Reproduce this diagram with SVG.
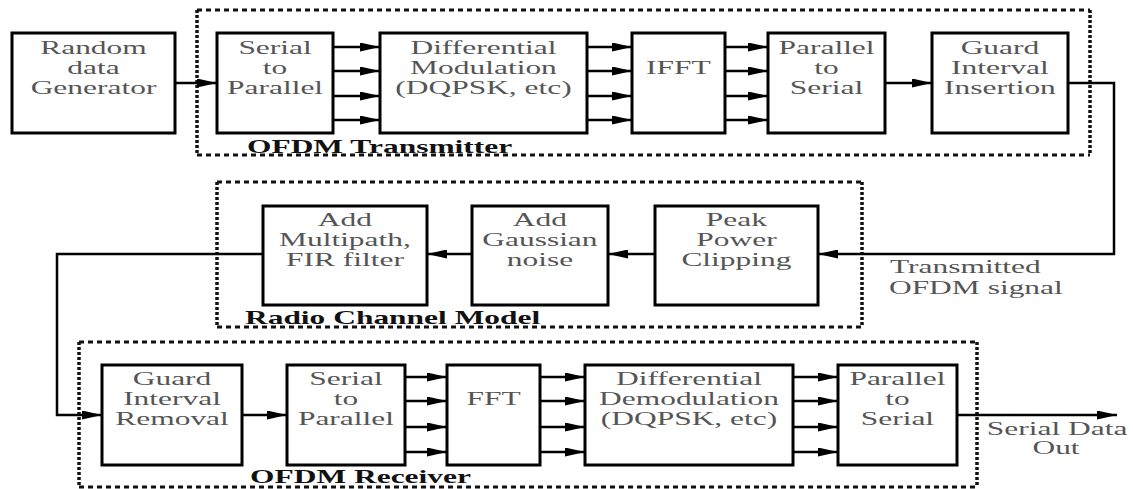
<svg xmlns="http://www.w3.org/2000/svg" width="1133" height="489" viewBox="0 0 1133 489" font-family="'Liberation Serif', 'DejaVu Serif', serif">
<style>
  .box { fill: #fff; stroke: #000; stroke-width: 3; }
  .t { font-family: 'Liberation Serif', 'DejaVu Serif', serif; font-size: 18.5px; fill: #555; text-anchor: middle; transform: scale(1.7, 1); }
  .lbl { font-family: 'Liberation Serif', 'DejaVu Serif', serif; font-size: 18.5px; font-weight: bold; fill: #111; transform: scale(1.7, 1); }
  .note { font-family: 'Liberation Serif', 'DejaVu Serif', serif; font-size: 18.5px; fill: #555; transform: scale(1.7, 1); }
  .hd { fill: none; stroke: #111; stroke-width: 3; stroke-dasharray: 5 4; }
  .vd { fill: none; stroke: #111; stroke-width: 3.5; stroke-dasharray: 3 2; }
  .ca { fill: none; stroke: #000; stroke-width: 2.5; marker-end: url(#ah); }
</style>
<defs>
  <marker id="ah" markerUnits="userSpaceOnUse" markerWidth="20" markerHeight="9" refX="20" refY="4.5" orient="auto">
    <path d="M0,0 L20,4.5 L0,9 z" fill="#000"/>
  </marker>
</defs>
<rect width="1133" height="489" fill="#fff"/>

<!-- group frames -->
<g id="frame-transmitter">
  <line class="hd" x1="197" y1="10" x2="1090" y2="10"/>
  <line class="hd" x1="197" y1="155" x2="1090" y2="155"/>
  <line class="vd" x1="197" y1="10" x2="197" y2="155"/>
  <line class="vd" x1="1090" y1="10" x2="1090" y2="155"/>
  <text class="lbl" x="145.3" y="153">OFDM Transmitter</text>
</g>
<g id="frame-channel">
  <line class="hd" x1="217" y1="182" x2="862" y2="182"/>
  <line class="hd" x1="217" y1="327" x2="862" y2="327"/>
  <line class="vd" x1="217" y1="182" x2="217" y2="327"/>
  <line class="vd" x1="862" y1="182" x2="862" y2="327"/>
  <text class="lbl" x="144.1" y="324">Radio Channel Model</text>
</g>
<g id="frame-receiver">
  <line class="hd" x1="79" y1="342" x2="977" y2="342"/>
  <line class="hd" x1="79" y1="487" x2="977" y2="487"/>
  <line class="vd" x1="79" y1="342" x2="79" y2="487"/>
  <line class="vd" x1="977" y1="342" x2="977" y2="487"/>
  <text class="lbl" x="147.1" y="483">OFDM Receiver</text>
</g>

<!-- connectors -->
<g id="connectors">
  <line class="ca" x1="175" y1="83" x2="217" y2="83"/>
  <line class="ca" x1="333" y1="47" x2="380" y2="47"/>
  <line class="ca" x1="333" y1="71" x2="380" y2="71"/>
  <line class="ca" x1="333" y1="96" x2="380" y2="96"/>
  <line class="ca" x1="333" y1="120" x2="380" y2="120"/>
  <line class="ca" x1="587" y1="47" x2="632" y2="47"/>
  <line class="ca" x1="587" y1="71" x2="632" y2="71"/>
  <line class="ca" x1="587" y1="96" x2="632" y2="96"/>
  <line class="ca" x1="587" y1="120" x2="632" y2="120"/>
  <line class="ca" x1="725" y1="47" x2="768" y2="47"/>
  <line class="ca" x1="725" y1="71" x2="768" y2="71"/>
  <line class="ca" x1="725" y1="96" x2="768" y2="96"/>
  <line class="ca" x1="725" y1="120" x2="768" y2="120"/>
  <line class="ca" x1="885" y1="83" x2="932" y2="83"/>
  <path class="ca" d="M1068,83 H1114 V254 H818"/>
  <line class="ca" x1="655" y1="254" x2="608" y2="254"/>
  <line class="ca" x1="472" y1="254" x2="427" y2="254"/>
  <path class="ca" d="M263,254 H57 V415 H102"/>
  <line class="ca" x1="242" y1="415" x2="287" y2="415"/>
  <line class="ca" x1="405" y1="377" x2="447" y2="377"/>
  <line class="ca" x1="405" y1="401" x2="447" y2="401"/>
  <line class="ca" x1="405" y1="427" x2="447" y2="427"/>
  <line class="ca" x1="405" y1="452" x2="447" y2="452"/>
  <line class="ca" x1="540" y1="377" x2="585" y2="377"/>
  <line class="ca" x1="540" y1="401" x2="585" y2="401"/>
  <line class="ca" x1="540" y1="427" x2="585" y2="427"/>
  <line class="ca" x1="540" y1="452" x2="585" y2="452"/>
  <line class="ca" x1="793" y1="377" x2="838" y2="377"/>
  <line class="ca" x1="793" y1="401" x2="838" y2="401"/>
  <line class="ca" x1="793" y1="427" x2="838" y2="427"/>
  <line class="ca" x1="793" y1="452" x2="838" y2="452"/>
  <line class="ca" x1="957" y1="415" x2="1117" y2="415"/>
  <text class="note" x="523.5" y="273">Transmitted</text>
  <text class="note" x="522.9" y="294">OFDM signal</text>
  <text class="t" x="621.8" y="435">Serial Data</text>
  <text class="t" x="621.2" y="454">Out</text>
</g>

<!-- transmitter nodes -->
<g id="random-data-generator">
  <rect class="box" x="12" y="33" width="163" height="100"/>
  <text class="t" x="55.0" y="54">Random</text>
  <text class="t" x="55.0" y="74">data</text>
  <text class="t" x="55.0" y="94">Generator</text>
</g>
<g id="tx-serial-to-parallel">
  <rect class="box" x="217" y="33" width="116" height="100"/>
  <text class="t" x="161.8" y="54">Serial</text>
  <text class="t" x="161.8" y="74">to</text>
  <text class="t" x="161.8" y="94">Parallel</text>
</g>
<g id="differential-modulation">
  <rect class="box" x="380" y="33" width="207" height="100"/>
  <text class="t" x="284.4" y="54">Differential</text>
  <text class="t" x="284.4" y="74">Modulation</text>
  <text class="t" x="284.4" y="94">(DQPSK, etc)</text>
</g>
<g id="ifft">
  <rect class="box" x="632" y="33" width="93" height="100"/>
  <text class="t" x="399.1" y="74">IFFT</text>
</g>
<g id="tx-parallel-to-serial">
  <rect class="box" x="768" y="33" width="117" height="100"/>
  <text class="t" x="486.2" y="54">Parallel</text>
  <text class="t" x="486.2" y="74">to</text>
  <text class="t" x="486.2" y="94">Serial</text>
</g>
<g id="guard-interval-insertion">
  <rect class="box" x="932" y="33" width="136" height="100"/>
  <text class="t" x="588.2" y="54">Guard</text>
  <text class="t" x="588.2" y="74">Interval</text>
  <text class="t" x="588.2" y="94">Insertion</text>
</g>

<!-- channel nodes -->
<g id="add-multipath">
  <rect class="box" x="263" y="206" width="164" height="99"/>
  <text class="t" x="202.9" y="226">Add</text>
  <text class="t" x="202.9" y="246">Multipath,</text>
  <text class="t" x="202.9" y="266">FIR filter</text>
</g>
<g id="add-gaussian-noise">
  <rect class="box" x="472" y="206" width="136" height="99"/>
  <text class="t" x="317.6" y="226">Add</text>
  <text class="t" x="317.6" y="246">Gaussian</text>
  <text class="t" x="317.6" y="266">noise</text>
</g>
<g id="peak-power-clipping">
  <rect class="box" x="655" y="206" width="163" height="99"/>
  <text class="t" x="433.2" y="226">Peak</text>
  <text class="t" x="433.2" y="246">Power</text>
  <text class="t" x="433.2" y="266">Clipping</text>
</g>

<!-- receiver nodes -->
<g id="guard-interval-removal">
  <rect class="box" x="102" y="365" width="140" height="100"/>
  <text class="t" x="101.2" y="385">Guard</text>
  <text class="t" x="101.2" y="405">Interval</text>
  <text class="t" x="101.2" y="425">Removal</text>
</g>
<g id="rx-serial-to-parallel">
  <rect class="box" x="287" y="365" width="118" height="100"/>
  <text class="t" x="203.5" y="385">Serial</text>
  <text class="t" x="203.5" y="405">to</text>
  <text class="t" x="203.5" y="425">Parallel</text>
</g>
<g id="fft">
  <rect class="box" x="447" y="365" width="93" height="100"/>
  <text class="t" x="290.3" y="405">FFT</text>
</g>
<g id="differential-demodulation">
  <rect class="box" x="585" y="365" width="208" height="100"/>
  <text class="t" x="405.3" y="385">Differential</text>
  <text class="t" x="405.3" y="405">Demodulation</text>
  <text class="t" x="405.3" y="425">(DQPSK, etc)</text>
</g>
<g id="rx-parallel-to-serial">
  <rect class="box" x="838" y="365" width="119" height="100"/>
  <text class="t" x="527.9" y="385">Parallel</text>
  <text class="t" x="527.9" y="405">to</text>
  <text class="t" x="527.9" y="425">Serial</text>
</g>
</svg>
